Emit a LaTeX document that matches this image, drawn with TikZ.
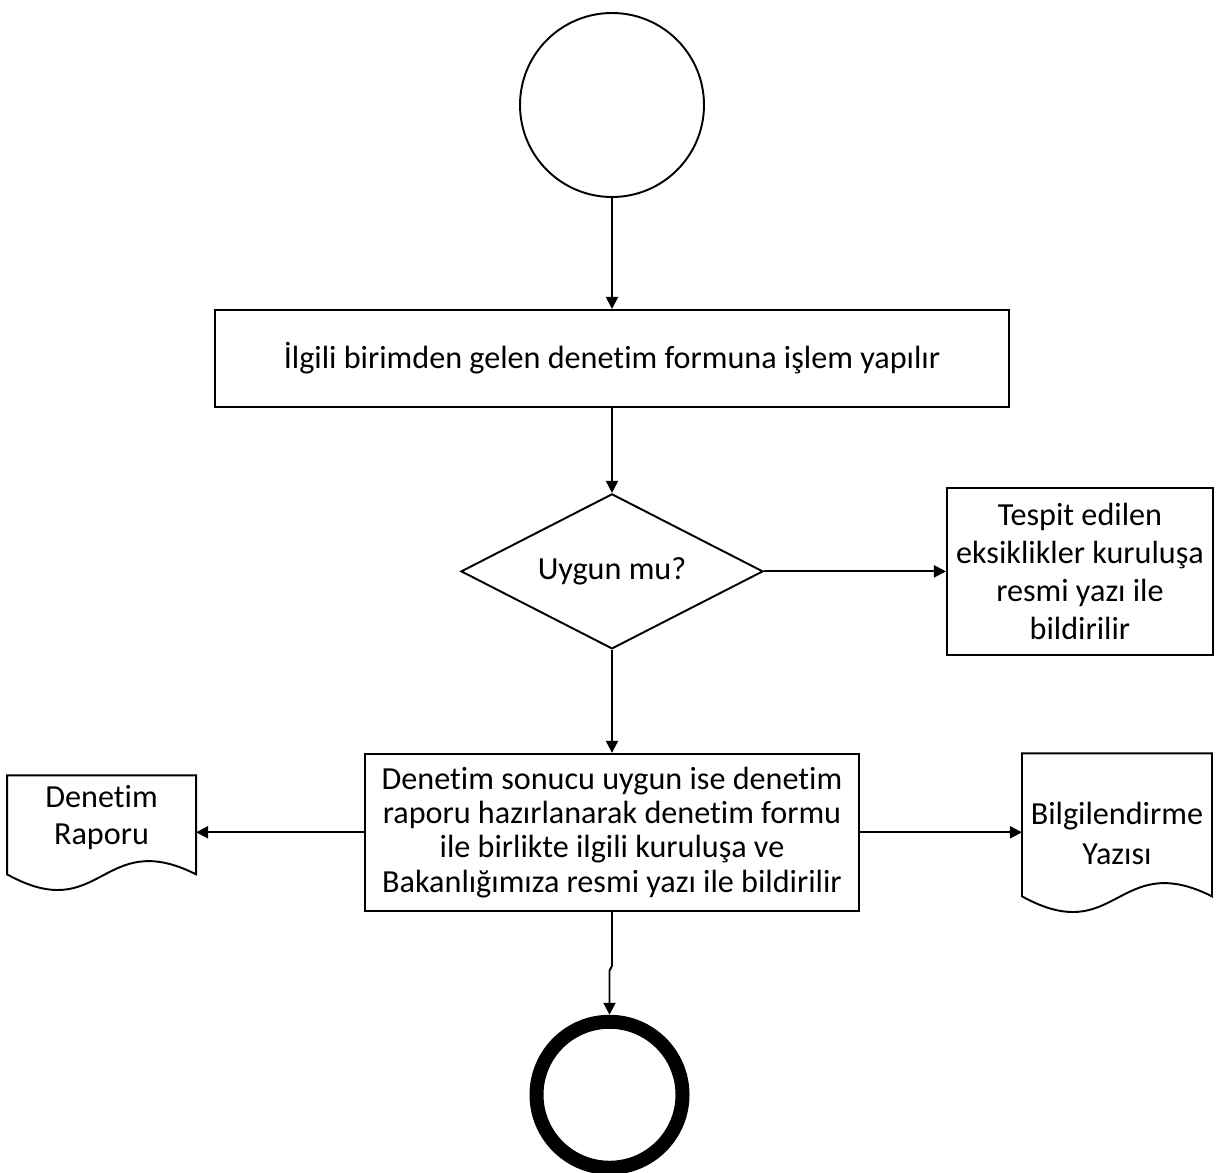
\documentclass[tikz,border=0pt]{standalone}
\usepackage{fontspec}
\setmainfont{Carlito}[Ligatures=NoCommon]
\usepackage{tikz}
\usetikzlibrary{arrows.meta,positioning,shapes.geometric,calc}

\begin{document}
\begin{tikzpicture}[
    box/.style={
        rectangle,
        draw,
        line width=1.1pt,
        align=center,
        inner sep=2pt,
        font=\fontsize{18.3}{19.5}\selectfont
    },
    doc/.style={
        rectangle,
        inner sep=0pt,
        outer sep=0pt
    },
    doclabel/.style={
        align=center,
        inner sep=0pt,
        font=\fontsize{18.3}{21}\selectfont
    },
    arrow/.style={
        -{Triangle[length=0.24cm,width=0.24cm]},
        line width=1.1pt
    }
]
\useasboundingbox (0,0) rectangle (24.48,-23.44);

\node[circle, draw, line width=1.1pt, minimum size=3.68cm] (start) at (12.24,-2.1) {};
\node[box, below=2.22cm of start, minimum width=15.88cm, minimum height=1.94cm] (islem) {İlgili birimden gelen denetim formuna işlem yapılır};
\node[box, diamond, aspect=2, inner sep=0pt, below=1.7cm of islem, minimum width=6.04cm, minimum height=3.1cm] (uygun) {Uygun mu?};
\node[box, right=3.64cm of uygun, minimum width=5.32cm, minimum height=3.34cm, font=\fontsize{18.3}{21.5}\selectfont] (tespit) {Tespit edilen\\eksiklikler kuruluşa\\resmi yazı ile\\bildirilir};
\node[box, below=2.06cm of uygun, minimum width=9.88cm, minimum height=3.14cm] (sonuc) {Denetim sonucu uygun ise denetim\\raporu hazırlanarak denetim formu\\ile birlikte ilgili kuruluşa ve\\Bakanlığımıza resmi yazı ile bildirilir};

\node[doc, left=3.36cm of sonuc, yshift=0.15cm, minimum width=3.78cm, minimum height=1.98cm,
    label={[doclabel, yshift=0.14cm]center:Denetim\\Raporu}] (rapor) {};
\node[doc, right=3.24cm of sonuc, yshift=0.15cm, minimum width=3.8cm, minimum height=2.86cm,
    label={[doclabel, yshift=-0.17cm, font=\fontsize{18.3}{22.7}\selectfont]center:Bilgilendirme\\Yazısı}] (bilgi) {};

\node[circle, draw, line width=0.28cm, minimum size=2.92cm, inner sep=0pt, below=2.06cm of sonuc, xshift=-0.05cm] (bitis) {};

% document shapes with wavy bottom
\foreach \d in {rapor,bilgi}
    \draw[line width=1.1pt] (\d.south west) -- (\d.north west) -- (\d.north east) -- (\d.south east)
        .. controls ($(\d.south)+(0,0.95)$) and ($(\d.south)+(0,-1.05)$) .. (\d.south west) -- cycle;

\draw[arrow] (start) -- (islem);
\draw[arrow] (islem) -- (uygun);
\draw[arrow] (uygun) -- (tespit);
\draw[arrow] (uygun) -- (sonuc);
\draw[arrow] (sonuc.west) -- (sonuc.west -| rapor.east);
\draw[arrow] (sonuc.east) -- (sonuc.east -| bilgi.west);
\draw[arrow] (sonuc.south) -- ++(0,-1.08) -- ++(-0.05,-0.1) -- (bitis.north);

\end{tikzpicture}
\end{document}
